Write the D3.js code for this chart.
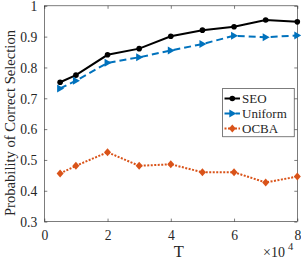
<!DOCTYPE html>
<html><head><meta charset="utf-8">
<script src="https://cdn.jsdelivr.net/npm/d3@7"></script>
<style>body{margin:0;background:#fff}svg{display:block}text{font-family:"Liberation Serif","DejaVu Serif",serif;fill:#262626}</style>
</head><body><div id="c"></div>
<script>
const xs = [0.5,1,2,3,4,5,6,7,8];
const seo = [0.752,0.775,0.841,0.861,0.901,0.921,0.932,0.954,0.948];
const uniform = [0.732,0.757,0.815,0.833,0.855,0.876,0.903,0.898,0.904];
const ocba = [0.456,0.481,0.525,0.481,0.486,0.460,0.460,0.427,0.446];
const xTicks = [0,2,4,6,8];
const yTicks = [0.3,0.4,0.5,0.6,0.7,0.8,0.9,1];
const seriesNames = ["SEO","Uniform","OCBA"];

const W=301,H=261;
const svg=d3.select("#c").append("svg").attr("width",W).attr("height",H);
const x=d3.scaleLinear().domain([0,8]).range([44.3,297.3]);
const y=d3.scaleLinear().domain([0.3,1]).range([221.6,5.8]);
const ax="#262626";
svg.append("rect").attr("x",x(0)).attr("y",y(1)).attr("width",x(8)-x(0)).attr("height",y(0.3)-y(1))
  .attr("fill","none").attr("stroke",ax).attr("stroke-width",0.6);
const tl=3;
const gx=svg.append("g").attr("transform",`translate(0,${y(0.3)})`)
  .call(d3.axisBottom(x).tickValues(xTicks).tickSize(-tl).tickFormat(d3.format("d")));
const gxt=svg.append("g").attr("transform",`translate(0,${y(1)})`)
  .call(d3.axisTop(x).tickValues(xTicks).tickSize(-tl).tickFormat(""));
const gy=svg.append("g").attr("transform",`translate(${x(0)},0)`)
  .call(d3.axisLeft(y).tickValues(yTicks).tickSize(-tl).tickFormat(d=>d===1?"1":d3.format(".1f")(d)));
const gyr=svg.append("g").attr("transform",`translate(${x(8)},0)`)
  .call(d3.axisRight(y).tickValues(yTicks).tickSize(-tl).tickFormat(""));
[gx,gxt,gy,gyr].forEach(g=>{g.select(".domain").remove();g.selectAll("line").attr("stroke",ax).attr("stroke-width",0.6);
  g.selectAll("text").attr("font-size",13.6).attr("font-family","Liberation Serif").attr("fill",ax);});
gx.selectAll("text").attr("dy",0).attr("y",18.5);
gy.selectAll("text").attr("x",-7).attr("dy","0.35em");

svg.append("text").attr("x",x(4.25)).attr("y",256.5).attr("text-anchor","middle").attr("font-size",16.5).text("T");
const sx=svg.append("text").attr("x",263).attr("y",257).attr("font-size",14);
sx.append("tspan").text("×10");
sx.append("tspan").attr("dx",3).attr("dy",-7).attr("font-size",10.5).text("4");
svg.append("text").attr("transform",`translate(14.5,123) rotate(-90)`).attr("text-anchor","middle").attr("font-size",14.6).text("Probability of Correct Selection");

const line=d3.line().x((d,i)=>x(xs[i])).y(d=>y(d));
const cfg=[
 {data:seo,color:"#000000",dash:null,marker:"circle"},
 {data:uniform,color:"#0072BD",dash:"7,4",marker:"tri"},
 {data:ocba,color:"#D95319",dash:"2,1.5",marker:"diamond"}];
function mark(g,type,cx,cy,color){
  if(type==="circle") g.append("circle").attr("cx",cx).attr("cy",cy).attr("r",2.8).attr("fill",color);
  else if(type==="tri") g.append("path").attr("d",`M${cx+4},${cy}L${cx-3},${cy-4}L${cx-3},${cy+4}Z`).attr("fill",color);
  else g.append("path").attr("d",`M${cx},${cy-4}L${cx+3.5},${cy}L${cx},${cy+4}L${cx-3.5},${cy}Z`).attr("fill",color);
}
cfg.forEach(c=>{
  const g=svg.append("g");
  g.append("path").attr("d",line(c.data)).attr("fill","none").attr("stroke",c.color).attr("stroke-width",2).attr("stroke-dasharray",c.dash);
  c.data.forEach((v,i)=>mark(g,c.marker,x(xs[i]),y(v),c.color));
});
const lg=svg.append("g");
lg.append("rect").attr("x",222.7).attr("y",88.3).attr("width",71.5).attr("height",48.5).attr("fill","#fff").attr("stroke",ax).attr("stroke-width",0.6);
cfg.forEach((c,i)=>{
  const yy=98.5+i*15;
  lg.append("line").attr("x1",224.5).attr("x2",240).attr("y1",yy).attr("y2",yy).attr("stroke",c.color).attr("stroke-width",2).attr("stroke-dasharray",c.dash);
  mark(lg,c.marker,232.3,yy,c.color);
  lg.append("text").attr("x",242).attr("y",yy).attr("dy","0.35em").attr("font-size",13).text(seriesNames[i]);
});
</script></body></html>
